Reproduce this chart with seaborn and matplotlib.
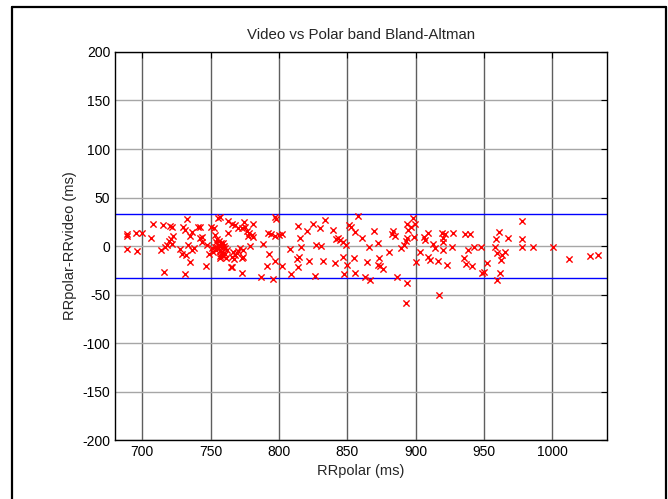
import numpy as np
import pandas as pd
import matplotlib
matplotlib.use("Agg")
import matplotlib.pyplot as plt
from matplotlib.lines import Line2D
import seaborn as sns

# RRpolar (ms) and RRpolar - RRvideo (ms)
rr_polar = [
    688.5, 689, 688.5, 695.4, 696.3, 700, 706, 708, 715.4, 720.2, 722, 716, 713.7, 716.6,
    718.3, 719.5, 721, 722.7, 722, 727.6, 729.3, 730, 731.2, 732.4, 731.2, 732, 733.7,
    734.9, 736, 736.6, 738, 735.1, 740.5, 742.4, 742.2, 743.9, 743.9, 746.3, 747, 748.8,
    750.2, 752.7, 753.2, 754.4, 754, 755.6, 757.3, 758.5, 755.1, 756.8, 758, 755.6, 756.8,
    762.9, 765.4, 762.4, 756.8, 759.3, 760.5, 764.9, 750.7, 751.9, 760.5, 761.7,
    757, 759, 754, 758, 756, 760, 753, 757, 761,
    767.8, 770.2, 772.7, 774.4, 775.1, 776.3, 778.3, 780, 781.2, 777.6, 781.2, 778.8,
    788.5, 766.6, 767.8, 769, 770.2, 771.5, 773.4, 765.4, 767.1, 772.7, 773.9, 765.4,
    772.7, 786.6, 795.4, 791, 792.9, 797.1, 801.9, 797.1, 797.8, 792.2, 793.9, 797.1,
    800.2, 801.9, 808, 813.7, 815.4, 816.1, 820.7, 812.9, 814.6, 813.7, 808.8, 822.2,
    824.6, 827.1, 830.5, 830, 833.7, 832.4, 826.3, 839.8, 841.7, 843.4, 844.6, 847.1,
    849, 841, 847.1, 850, 847.6, 851.5, 852.4, 855.6, 858, 860.5, 854.9, 855.6, 862.9,
    864.1, 866.1, 869.8, 866.6, 872.7, 872.7,
    873.2, 873.9, 876.3, 880.5, 882.4, 883.7, 884.9, 886.1, 889.3, 891.7, 892.7, 893.4,
    893.4, 894.6, 896.6, 898.3, 899.5, 899, 893.4, 892.7, 900, 903.2, 906.3, 906.8,
    908.8, 909.3, 910.5, 912.9, 914.1, 916.6, 917.3, 919, 920.2, 920.2, 921.5, 920.2,
    922.7, 926.3, 927.6, 936.1, 939.7, 935.6, 936.6, 938, 941.5, 943, 947.8, 948.3,
    950.2, 951.9, 958, 958.5, 961, 959.3, 962.4, 963.4, 965.4, 961.7, 959.3, 967.8,
    978, 978, 978,
    985.6, 1000.2, 1012.2, 1027.6, 1033.7,
]
rr_diff = [
    12.4, 10.3, -3.4, 13.8, -5.1, 13.8, 7.9, 22.7, 21.7, 21, 20, -26.4, -4.1, -1.3,
    1.1, 5.2, 6.9, 10.7, 2.1, -3.4, -7.9, 20, 16.5, 27.9, -28.8, -9.3, 1.1,
    10.7, 14.8, -4.1, -2.4, -16.8, 19.3, 19.3, 7.9, 9.3, 4.5, -20.2, 1.1, -8.6,
    20, 18.2, 11.4, 7.2, 3.8, 1.1, 2.8, -0.7, -2.4, -5.1, -8.2, 28.5, 29.6,
    25.8, 22.4, 13.1, -12.7, -10.3, -8.6, -21.3, -2.4, -6.5, -2.4, -4.1,
    0, 3, -4, -6, 5, 0, -1, -10, -12,
    21.7, 18.2, 18.2, 24.4, 20, 15.5, 13.1, 11.4, 9.6, 10.7, 22.7, 0.4,
    1.8, -5.8, -9.3, -7.6, -5.1, -2.4, -4.1, -11, -13.4, -12, -11, -21.3,
    -27.5, -31.6, -34.3, -20.6, -8.6, -15.4, -20.6, 30.3, 27.9, 13.1, 11.9, 10.7,
    11.4, 12.1, -3.4, 20.6, 8.6, -0.7, 15.5, -13.7, -11, -21.3, -29.2, -15.4,
    22.7, 1.1, 0.4, 18.9, 26.8, -15.4, -30.9, 16.5, 6.9, 7.9, 6.2, 4.5,
    1.1, -17.2, -11, -19.6, -29.2, 21.7, 19.3, 14.1, 31.3, 8.6, -12.7, -27.5, -31.6,
    -16.2, -0.7, 15.5, -35, -19.6, 2.8,
    -12, -20.2, -23.7, -5.8, 12.1, 15.5, 10.7, -31.6, -2.4, 1.1, 5.2, 8.6,
    22.4, 16.5, 20, 28.5, 22.4, 9.6, -38.5, -59.1, -16.8, -6.5, 9.6, 6.2,
    13.1, -11, -14.4, 1.8, -1.7, -15.4, -50.5, 13.1, 7.9, 4.5, 12.1, -4.1,
    -19.6, -0.7, 13.1, 12.1, 12.1, -12, -18.9, -4.1, -20.2, -0.7, -0.7, -28.2,
    -27.1, -17.2, -0.7, 7.2, 14.1, -7.6, -14.4, -9.3, -6.5, -27.5, -35, 8.6,
    25.8, 6.9, -0.7,
    -0.7, -0.7, -13.4, -9.9, -9.3,
]
limits = [32.6, -32.8]  # limits of agreement

x_ticks = [700, 750, 800, 850, 900, 950, 1000]
y_ticks = [-200, -150, -100, -50, 0, 50, 100, 150, 200]

df = pd.DataFrame({"rr_polar": rr_polar, "diff": rr_diff})

sns.set_style("white")
plt.rcParams["font.family"] = ["Liberation Sans", "DejaVu Sans"]
plt.rcParams["axes.unicode_minus"] = False

fig = plt.figure(figsize=(6.68, 4.99), dpi=100)
ax = fig.add_axes([0.1722, 0.1182, 0.7365, 0.7776])

# grid like MATLAB "grid on"
for xt in x_ticks:
    ax.axvline(xt, color="#5e5e5e", lw=1, zorder=0)
for yt in y_ticks:
    ax.axhline(yt, color="#a6a6a6", lw=1, zorder=0)

sns.scatterplot(data=df, x="rr_polar", y="diff", marker="x", color="red",
                s=20, linewidth=1, ax=ax, zorder=3)

for lim in limits:
    ax.axhline(lim, color="blue", lw=1, zorder=2)

ax.set_xlim(680, 1040)
ax.set_ylim(-200, 200)
ax.set_xticks(x_ticks)
ax.set_yticks(y_ticks)
ax.tick_params(direction="in", length=4, width=0.8, labelsize=10,
               top=True, right=True, colors="black")
for sp in ax.spines.values():
    sp.set_color("black")
    sp.set_linewidth(1)

ax.set_title("Video vs Polar band Bland-Altman", fontsize=10.8, pad=9)
ax.set_xlabel("RRpolar (ms)", fontsize=10.5, labelpad=4)
ax.set_ylabel("RRpolar-RRvideo (ms)", fontsize=10.5, labelpad=4)

# outer frame around the figure
for xs, ys in [([0.018, 0.018], [0.0, 0.986]),
               ([0.018, 0.997], [0.986, 0.986]),
               ([0.997, 0.997], [0.986, 0.0])]:
    fig.add_artist(Line2D(xs, ys, transform=fig.transFigure, color="black", lw=1.6))

fig.savefig("out.png", dpi=100)
